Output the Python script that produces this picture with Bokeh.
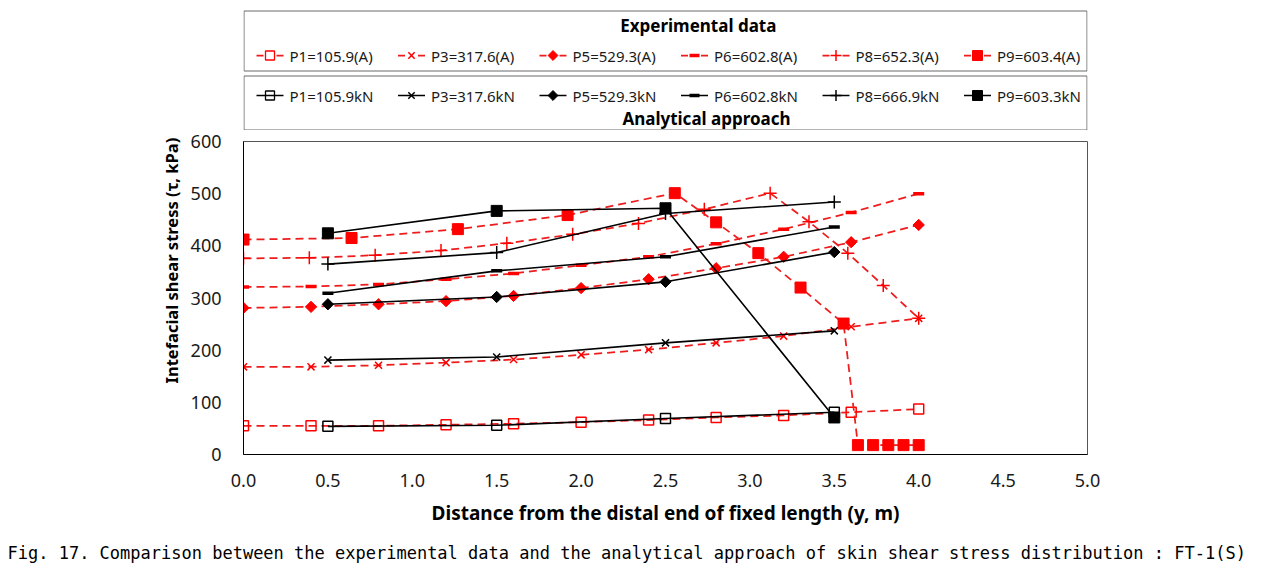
import numpy as np
from bokeh.plotting import figure
from bokeh.layouts import column
from bokeh.models import Range1d, FixedTicker, NumeralTickFormatter, Title
from bokeh.embed import file_html
from bokeh.resources import INLINE
from bokeh.core.properties import value

# ---------------- data ----------------
exp_x = [0.0, 0.4, 0.8, 1.2, 1.6, 2.0, 2.4, 2.8, 3.2, 3.6, 4.0]
p1_exp = [55, 55, 55, 57, 59, 62, 66, 71, 75, 81, 87]
p3_exp = [168, 168, 171, 176, 182, 191, 201, 214, 227, 245, 261]
p5_exp = [281, 283, 288, 294, 304, 319, 336, 357, 379, 407, 440]
p6_exp = [321, 322, 326, 336, 347, 363, 379, 404, 432, 464, 500]
p8_exp_x = [0.0, 0.39, 0.78, 1.17, 1.56, 1.95, 2.34, 2.73, 3.12, 3.35, 3.58, 3.79, 4.0]
p8_exp = [376, 377, 382, 391, 405, 422, 443, 470, 501, 446, 386, 324, 261]
p9_exp_x = [0.0, 0.64, 1.27, 1.92, 2.555, 2.8, 3.05, 3.3, 3.555, 3.64, 3.73, 3.82, 3.91, 4.0]
p9_exp = [412, 415, 432, 459, 501, 445, 386, 320, 251, 18, 18, 18, 18, 18]

ana_x = [0.5, 1.5, 2.5, 3.5]
p1_ana = [54, 56, 69, 81]
p3_ana = [181, 187, 214, 237]
p5_ana = [288, 302, 331, 388]
p6_ana = [309, 352, 379, 436]
p8_ana = [365, 387, 462, 484]
p9_ana = [424, 467, 472, 71]

x_ticks = [0.0, 0.5, 1.0, 1.5, 2.0, 2.5, 3.0, 3.5, 4.0, 4.5, 5.0]
y_ticks = [0, 100, 200, 300, 400, 500, 600]

exp_labels = ["P1=105.9(A)", "P3=317.6(A)", "P5=529.3(A)", "P6=602.8(A)", "P8=652.3(A)", "P9=603.4(A)"]
ana_labels = ["P1=105.9kN", "P3=317.6kN", "P5=529.3kN", "P6=602.8kN", "P8=666.9kN", "P9=603.3kN"]

x_title = "Distance from the distal end of fixed length (y, m)"
y_title = "Intefacial shear stress (\u03c4, kPa)"
caption = ("Fig. 17. Comparison between the experimental data and the analytical approach "
           "of skin shear stress distribution : FT-1(S)")

# ---------------- styles ----------------
RED = "#FF0000"
RED_LINE = "#EE1C1C"
BLACK = "#000000"
FONT = "Noto Sans"

marker_styles = [
    dict(marker="square", size=10, angle=0.0, filled=False, lw=1.5),
    dict(marker="x", size=10, angle=0.0, filled=False, lw=1.5),
    dict(marker="square", size=8, angle=np.pi / 4, filled=True, lw=1.0),
    dict(marker="dash", size=11, angle=0.0, filled=False, lw=3.5),
    dict(marker="cross", size=13, angle=0.0, filled=False, lw=1.5),
    dict(marker="square", size=11, angle=0.0, filled=True, lw=1.0),
]
legend_marker_styles = [
    dict(marker="square", size=9, angle=0.0, filled=False, lw=1.3),
    dict(marker="x", size=9, angle=0.0, filled=False, lw=1.5),
    dict(marker="square", size=7, angle=np.pi / 4, filled=True, lw=1.0),
    dict(marker="dash", size=10, angle=0.0, filled=False, lw=3.5),
    dict(marker="cross", size=11, angle=0.0, filled=False, lw=1.5),
    dict(marker="square", size=10, angle=0.0, filled=True, lw=1.0),
]


def draw_marker(fig, xs, ys, st, color):
    fig.scatter(xs, ys, marker=st["marker"], size=st["size"], angle=st["angle"],
                line_color=color, line_width=st["lw"],
                fill_color=color if st["filled"] else None)


W = 1264
LEFT, RIGHT = 243, 177          # frame spans x 243..1087
LH = 130                        # legend strip height

# ---------------- main figure ----------------
p = figure(width=W, height=581 - LH, x_range=Range1d(0, 5), y_range=Range1d(0, 600),
           output_backend="svg", toolbar_location=None,
           min_border_left=LEFT, min_border_right=RIGHT, min_border_top=11, min_border_bottom=127)
p.grid.visible = False
p.outline_line_color = "#555555"
p.outline_line_width = 1
p.background_fill_color = "white"
p.border_fill_color = "white"

for ax in (p.xaxis[0], p.yaxis[0]):
    ax.major_tick_out = 0
    ax.major_tick_in = 0
    ax.minor_tick_out = 0
    ax.minor_tick_in = 0
    ax.axis_line_color = BLACK
    ax.axis_line_width = 1
    ax.major_label_text_font = FONT
    ax.major_label_text_font_size = "18px"
    ax.major_label_text_color = "#1a1a1a"

p.xaxis.ticker = FixedTicker(ticks=x_ticks)
p.xaxis.formatter = NumeralTickFormatter(format="0.0")
p.xaxis.major_label_standoff = 19
p.xaxis.axis_label = x_title
p.xaxis.axis_label_text_font = FONT
p.xaxis.axis_label_text_font_style = "bold"
p.xaxis.axis_label_text_font_size = "19px"
p.xaxis.axis_label_text_color = BLACK
p.xaxis.axis_label_standoff = 10

p.yaxis.ticker = FixedTicker(ticks=y_ticks)
p.yaxis.formatter = NumeralTickFormatter(format="0")
p.yaxis.major_label_standoff = 22

exp_series = [(exp_x, p1_exp), (exp_x, p3_exp), (exp_x, p5_exp),
              (exp_x, p6_exp), (p8_exp_x, p8_exp), (p9_exp_x, p9_exp)]
ana_series = [p1_ana, p3_ana, p5_ana, p6_ana, p8_ana, p9_ana]

for (xs, ys), st in zip(exp_series, marker_styles):
    p.line(xs, ys, line_color=RED_LINE, line_width=1.75, line_dash="8 5")
    draw_marker(p, xs, ys, st, RED)

for ys, st in zip(ana_series, marker_styles):
    p.line(ana_x, ys, line_color=BLACK, line_width=1.6)
    draw_marker(p, ana_x, ys, st, BLACK)

p.add_layout(Title(text=y_title, align="left", offset=71, standoff=10,
                   text_font=FONT, text_font_style="bold", text_font_size="16.5px",
                   text_color=BLACK), "left")
p.add_layout(Title(text=caption, align="left", offset=-236, standoff=25,
                   text_font="DejaVu Sans Mono", text_font_style="normal", text_font_size="17px",
                   text_color=BLACK), "below")

# ---------------- legend strip ----------------
lf = figure(width=W, height=LH, x_range=Range1d(LEFT, W - RIGHT), y_range=Range1d(LH, 0),
            output_backend="svg", toolbar_location=None,
            min_border_left=LEFT, min_border_right=RIGHT, min_border_top=0, min_border_bottom=0,
            x_axis_type=None, y_axis_type=None)
lf.grid.visible = False
lf.outline_line_color = None

BOX = "#6a6a6a"
lf.quad(left=[243.5, 243.5], right=[1086.5, 1086.5], top=[10.5, 75.5], bottom=[70.5, 129.5],
        fill_color=None, line_color=BOX, line_width=1)

lf.text([700], [25], text=["Experimental  data"], text_align="center", text_baseline="middle",
        text_font=value(FONT), text_font_style="bold", text_font_size="17px", text_color=BLACK)
lf.text([706], [118], text=["Analytical approach"], text_align="center", text_baseline="middle",
        text_font=value(FONT), text_font_style="bold", text_font_size="17px", text_color=BLACK)

step = 141.5
for k in range(6):
    x0 = 256 + k * step
    ye = 55
    lf.segment(x0=[x0, x0 + 20], y0=[ye, ye], x1=[x0 + 7, x0 + 27], y1=[ye, ye],
               line_color=RED_LINE, line_width=1.75)
    draw_marker(lf, [x0 + 13.5], [ye], legend_marker_styles[k], RED)
    lf.text([x0 + 33], [ye], text=[exp_labels[k]], text_baseline="middle",
            text_font=value(FONT), text_font_size="15px", text_color="#1a1a1a")
    ya = 95
    lf.line([x0, x0 + 27], [ya, ya], line_color=BLACK, line_width=1.6)
    draw_marker(lf, [x0 + 13.5], [ya], legend_marker_styles[k], BLACK)
    lf.text([x0 + 33], [ya], text=[ana_labels[k]], text_baseline="middle",
            text_font=value(FONT), text_font_size="15px", text_color="#1a1a1a")

layout = column(lf, p)
open("out.html", "w").write(file_html(layout, INLINE))
